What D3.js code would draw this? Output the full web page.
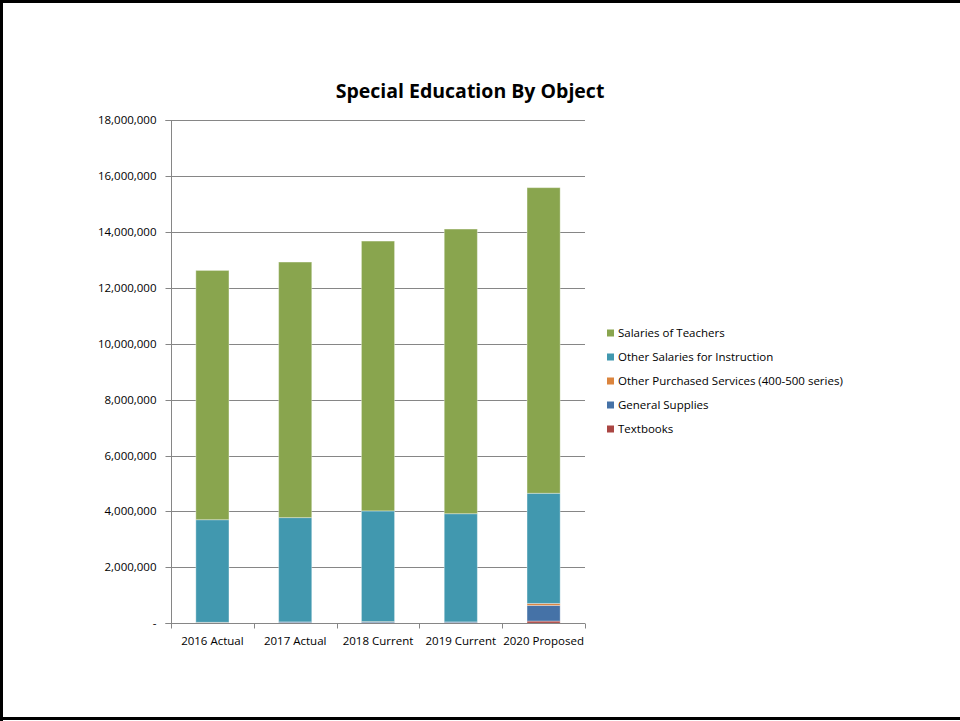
<!DOCTYPE html>
<html>
<head>
<meta charset="utf-8">
<script src="https://cdn.jsdelivr.net/npm/d3@7"></script>
<style>
  html, body { margin: 0; padding: 0; background: #fff; }
  svg { display: block; }
  text { font-family: "Open Sans", "Liberation Sans", sans-serif; }
</style>
</head>
<body>
<svg id="chart" width="960" height="721"></svg>
<script>
const categories = ["2016 Actual", "2017 Actual", "2018 Current", "2019 Current", "2020 Proposed"];
const seriesNames = ["Textbooks", "General Supplies", "Other Purchased Services (400-500 series)", "Other Salaries for Instruction", "Salaries of Teachers"];
const textbooks = [5000, 5000, 5000, 5000, 80000];
const generalSupplies = [20000, 40000, 40000, 40000, 560000];
const otherPurchased = [10000, 5000, 15000, 5000, 70000];
const otherSalaries = [3670000, 3730000, 3960000, 3870000, 3940000];
const teacherSalaries = [8915000, 9140000, 9650000, 10180000, 10930000];
const colors = ["#AA4643", "#4572A7", "#DB843D", "#4198AF", "#89A54E"];
const yTicks = [0, 2000000, 4000000, 6000000, 8000000, 10000000, 12000000, 14000000, 16000000, 18000000];
const legendOrder = ["Salaries of Teachers", "Other Salaries for Instruction", "Other Purchased Services (400-500 series)", "General Supplies", "Textbooks"];

const seriesValues = [textbooks, generalSupplies, otherPurchased, otherSalaries, teacherSalaries];
const rows = categories.map((c, i) => {
  const r = { cat: c };
  seriesNames.forEach((s, j) => r[s] = seriesValues[j][i]);
  return r;
});
const stacked = d3.stack().keys(seriesNames)(rows);

const svg = d3.select("#chart");
const pLeft = 171, pRight = 585, pTop = 120, pBottom = 623.3;

const x = d3.scaleBand().domain(categories).range([pLeft, pRight]).paddingInner(0.6).paddingOuter(0.3);
const xEdge = d3.scaleBand().domain(categories).range([pLeft, pRight]);
const y = d3.scaleLinear().domain([0, 18000000]).range([pBottom, pTop]);

// border
svg.append("path").attr("d", `M1.5,721 V1.5 H960`).attr("fill", "none").attr("stroke", "#000").attr("stroke-width", 3);
svg.append("line").attr("x1", 0).attr("x2", 960).attr("y1", 718.5).attr("y2", 718.5).attr("stroke", "#000").attr("stroke-width", 3);

// gridlines
svg.append("g").selectAll("line").data(yTicks.filter(d => d > 0)).join("line")
  .attr("x1", pLeft).attr("x2", pRight)
  .attr("y1", d => Math.round(y(d)) + 0.5).attr("y2", d => Math.round(y(d)) + 0.5)
  .attr("stroke", "#868686").attr("stroke-width", 1);

// bars
svg.append("g").selectAll("g").data(stacked).join("g")
  .attr("fill", (d, i) => colors[i])
  .selectAll("rect").data(d => d).join("rect")
  .attr("x", d => x(d.data.cat))
  .attr("width", x.bandwidth())
  .attr("y", d => y(d[1]))
  .attr("height", d => Math.max(0, y(d[0]) - y(d[1])))
  .attr("stroke", "rgba(255,255,255,0.35)")
  .attr("stroke-width", 1);

// y axis
const yAxis = d3.axisLeft(y).tickValues(yTicks).tickSize(6).tickPadding(9)
  .tickFormat(d => d === 0 ? "-" : d3.format(",")(d));
const gy = svg.append("g").attr("transform", `translate(${pLeft + 0.5},0)`).call(yAxis);
gy.select(".domain").attr("stroke", "#868686").attr("d", `M-6,${Math.round(pTop)+0.5}H0V${Math.round(pBottom)+0.5}H-6`);
gy.selectAll(".tick line").attr("stroke", "#868686");
gy.selectAll(".tick").attr("transform", d => `translate(0,${Math.round(y(d)) + 0.5})`);
gy.selectAll("text").attr("font-size", 11.5).attr("fill", "#000").attr("font-family", "'Open Sans', sans-serif");

// x axis
const gx = svg.append("g").attr("transform", `translate(0,${Math.round(pBottom) + 0.5})`);
gx.append("line").attr("x1", pLeft).attr("x2", pRight).attr("stroke", "#868686");
const edges = categories.map(c => xEdge(c)).concat([pRight]);
gx.selectAll("line.tk").data(edges).join("line").attr("class", "tk")
  .attr("x1", d => Math.round(d) + 0.5).attr("x2", d => Math.round(d) + 0.5)
  .attr("y1", 0).attr("y2", 5).attr("stroke", "#868686");
gx.selectAll("text").data(categories).join("text")
  .attr("x", d => xEdge(d) + xEdge.bandwidth() / 2)
  .attr("y", 21)
  .attr("text-anchor", "middle")
  .attr("font-size", 11.5)
  .attr("fill", "#000")
  .text(d => d);

// title
svg.append("text").attr("x", 470).attr("y", 98).attr("text-anchor", "middle")
  .attr("font-size", 19.5).attr("font-weight", "bold").attr("fill", "#000")
  .text("Special Education By Object");

// legend
const lg = svg.append("g").selectAll("g").data(legendOrder).join("g")
  .attr("transform", (d, i) => `translate(607,${333 + i * 24})`);
lg.append("rect").attr("x", 0).attr("y", -3.5).attr("width", 7).attr("height", 7)
  .attr("fill", d => colors[seriesNames.indexOf(d)]);
lg.append("text").attr("x", 11).attr("y", 4).attr("font-size", 11.5).attr("fill", "#000").text(d => d);
</script>
</body>
</html>
